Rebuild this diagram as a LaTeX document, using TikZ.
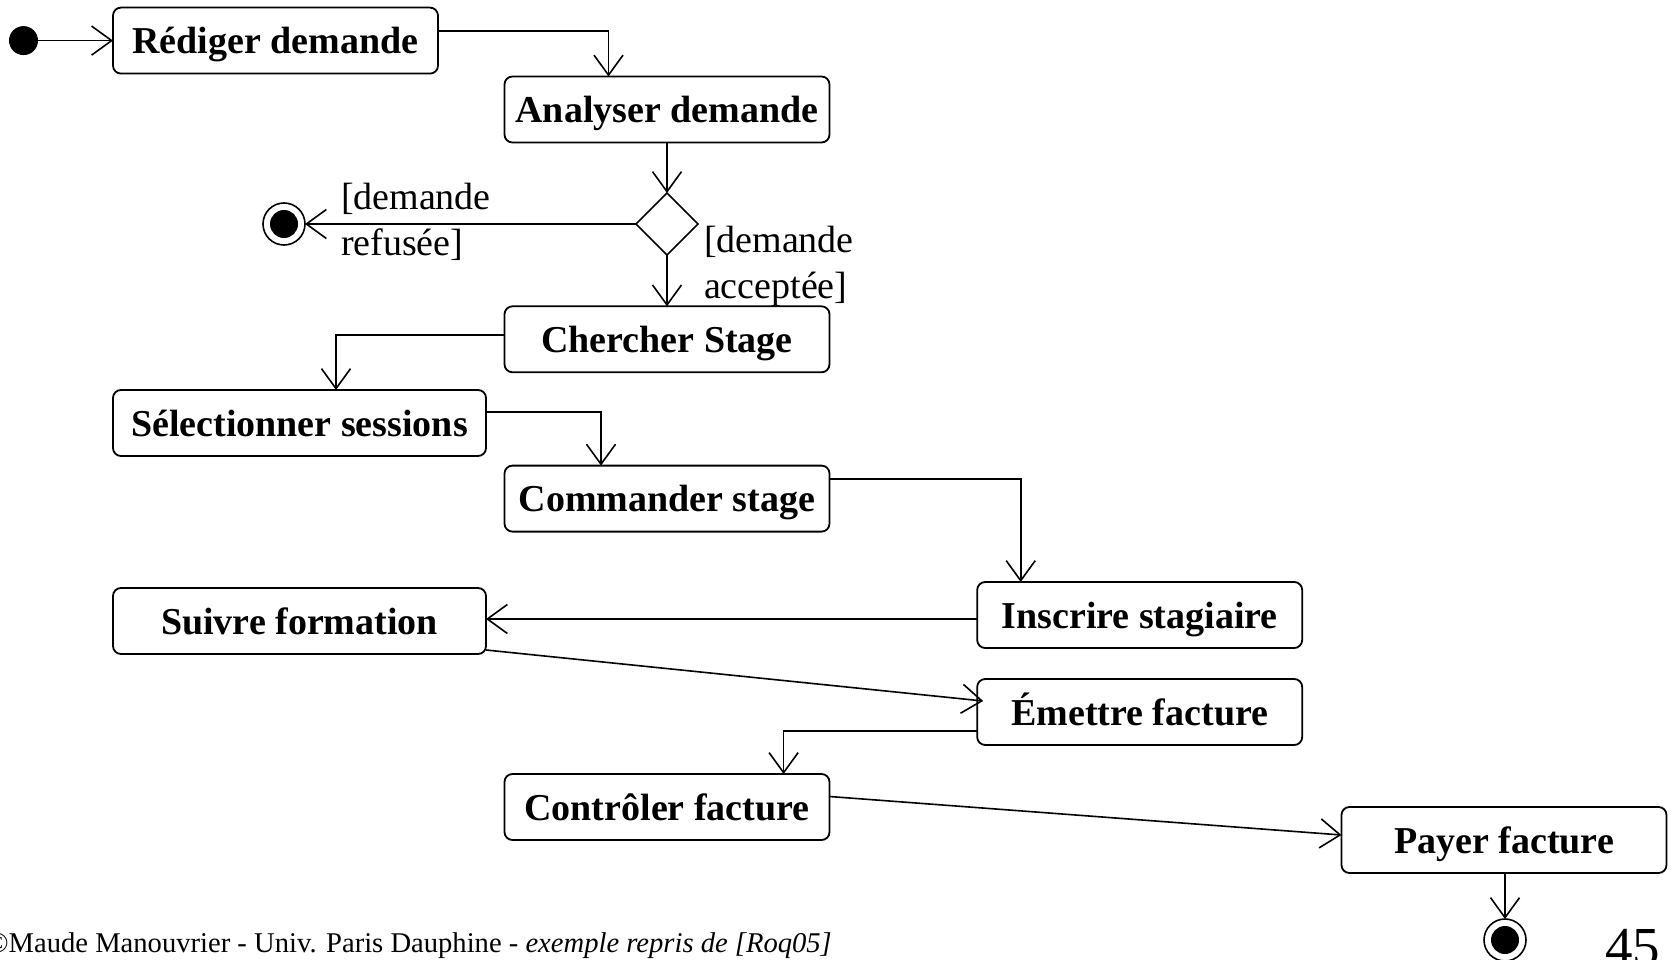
\documentclass[tikz,border=0pt]{standalone}
\usepackage{fontspec}
\setmainfont{Liberation Serif}
\usetikzlibrary{arrows.meta,shapes.geometric}
\begin{document}
\begin{tikzpicture}[x=1pt,y=-1pt,
  every node/.style={inner sep=0pt, outer sep=0pt},
  act/.style={draw, line width=1.8pt, rounded corners=8pt, minimum height=66pt,
    minimum width=325pt, text height=32pt, text depth=6pt,
    font=\fontsize{38}{46}\selectfont\bfseries},
  wide/.style={act, minimum width=373pt},
  arr/.style={line width=1.6pt, -{Straight Barb[length=20pt,width=29pt,line width=1.6pt]}},
  startdot/.style={circle, fill=black, minimum size=29pt},
  enddot/.style={circle, draw, line width=1.6pt, fill=white, minimum size=42pt},
  decision/.style={diamond, draw, line width=1.6pt, minimum width=62pt, minimum height=62pt, aspect=1},
  guard/.style={font=\fontsize{38}{46}\selectfont, anchor=west, align=left}
]
\clip (0,0) rectangle (1674,960);

% activities
\node[act]  (red)   at (275.5,40.6) {Rédiger demande};
\node[act]  (ana)   at (667,109.5)  {Analyser demande};
\node[decision] (dec) at (667,224) {};
\node[enddot] (endA) at (284,224) {};
\node[act]  (cher)  at (667,339.3)  {Chercher Stage};
\node[wide] (sel)   at (299.5,423)  {Sélectionner sessions};
\node[act]  (com)   at (667,498.6)  {Commander stage};
\node[act]  (ins)   at (1139.7,615) {Inscrire stagiaire};
\node[wide] (suiv)  at (299.5,621)  {Suivre formation};
\node[act]  (emet)  at (1139.7,712) {Émettre facture};
\node[act]  (contr) at (667,807)    {Contrôler facture};
\node[act]  (pay)   at (1504,840)   {Payer facture};
\node[startdot] (init) at (23.5,40.6) {};
\node[enddot] (endB) at (1505,940) {};

% bull's-eye of the final states
\fill (endA.center) circle (14pt);
\fill (endB.center) circle (14pt);

% guards
\node[guard] (gref) at (341,222) {[demande\\refusée]};
\node[guard] (gacc) at (704,266) {[demande\\acceptée]};

% transitions
\draw[arr] (init) -- (red);
\draw[arr] ([yshift=9.6pt]red.east) -| ([xshift=-58.5pt]ana.north);
\draw[arr] (ana) -- (dec);
\draw[arr] (dec) -- (endA);
\draw[arr] (dec) -- (cher);
\draw[arr] ([yshift=4.3pt]cher.west) -| ([xshift=36.5pt]sel.north);
\draw[arr] ([yshift=11pt]sel.east) -| ([xshift=-66pt]com.north);
\draw[arr] ([yshift=19.6pt]com.east) -| ([xshift=-119pt]ins.north);
\draw[arr] ([yshift=-4pt]ins.west) -- ([yshift=2pt]suiv.east);
\draw[arr] ([yshift=4pt]suiv.south east) -- ([yshift=11pt,xshift=6pt]emet.west);
\draw[arr] ([yshift=-19pt]emet.west) -| ([xshift=116.6pt]contr.north);
\draw[arr] ([yshift=10.5pt]contr.east) -- ([yshift=5pt]pay.west);
\draw[arr] ([xshift=1pt]pay.south) -- (endB);

% footer
\node[anchor=base west, font=\fontsize{28.6}{32}\selectfont] (foot) at (-13,952)
  {©Maude Manouvrier - Univ. Paris Dauphine - \textit{exemple repris de [Roq05]}};
\node[anchor=base west, font=\fontsize{55}{60}\selectfont] (page) at (1605,965) {45};
\end{tikzpicture}
\end{document}
